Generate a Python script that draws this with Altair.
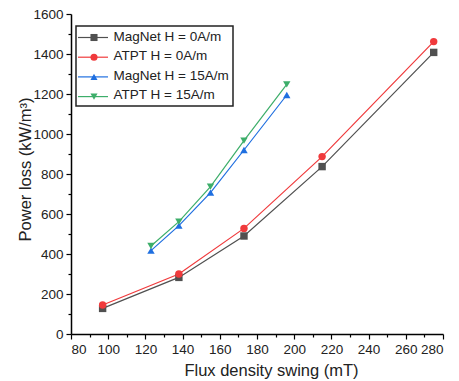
import altair as alt
import pandas as pd

# Series labels, colours and marker shapes
series_names = ["MagNet H = 0A/m", "ATPT H = 0A/m", "MagNet H = 15A/m", "ATPT H = 15A/m"]
series_colors = ["#505050", "#F03A3C", "#1F6FE0", "#3DAE6A"]
series_shapes = ["square", "circle", "triangle-up", "triangle-down"]

# Flux density swing (mT) and power loss (kW/m^3) per series
magnet_0_x = [97, 138, 173, 215, 275]
magnet_0_y = [128, 283, 490, 837, 1408]
atpt_0_x = [97, 138, 173, 215, 275]
atpt_0_y = [145, 300, 528, 887, 1462]
magnet_15_x = [123, 138, 155, 173, 196]
magnet_15_y = [417, 542, 707, 920, 1195]
atpt_15_x = [123, 138, 155, 173, 196]
atpt_15_y = [440, 562, 737, 967, 1248]

xs = [magnet_0_x, atpt_0_x, magnet_15_x, atpt_15_x]
ys = [magnet_0_y, atpt_0_y, magnet_15_y, atpt_15_y]

rows = []
for name, sx, sy in zip(series_names, xs, ys):
    for i, (a, b) in enumerate(zip(sx, sy)):
        rows.append({"series": name, "order": i, "flux": a, "loss": b})
df = pd.DataFrame(rows)
legend_df = pd.DataFrame({"series": series_names})

FONT = "Liberation Sans"
TEXT = "#222222"

# Legend frame and labels; its glyphs are drawn by the legend_glyphs layer
legend = alt.Legend(
    title=None,
    orient="none",
    legendX=5,
    legendY=12,
    padding=4,
    strokeColor=TEXT,
    symbolSize=60,
    symbolOpacity=0,
    labelOffset=20,
    labelFont=FONT,
    labelFontSize=13.5,
    labelColor=TEXT,
    rowPadding=4.5,
)

x_axis = alt.Axis(
    values=list(range(80, 281, 10)),
    labelExpr="datum.value % 20 === 0 ? datum.label : ''",
    tickSize={"condition": {"test": "datum.value % 20 === 0", "value": 5}, "value": 3},
    labelPadding=3,
    grid=False,
    domainColor="black",
    domainWidth=1.5,
    tickColor="black",
    tickWidth=1.2,
    labelFont=FONT,
    labelFontSize=13.5,
    labelColor=TEXT,
    title="Flux density swing (mT)",
    titleFont=FONT,
    titleFontSize=16.5,
    titleFontWeight="normal",
    titleColor=TEXT,
    titleX=200,
    titleY=41,
    titleBaseline="alphabetic",
)
y_axis = alt.Axis(
    values=list(range(0, 1601, 100)),
    labelExpr="datum.value % 200 === 0 ? datum.label : ''",
    tickSize={"condition": {"test": "datum.value % 200 === 0", "value": 5}, "value": 3},
    labelPadding=3,
    format="d",
    grid=False,
    domainColor="black",
    domainWidth=1.5,
    tickColor="black",
    tickWidth=1.2,
    labelFont=FONT,
    labelFontSize=13.5,
    labelColor=TEXT,
    title="Power loss (kW/m³)",
    titleFont=FONT,
    titleFontSize=16.5,
    titleFontWeight="normal",
    titleColor=TEXT,
    titleX=-41,
    titleY=155,
    titleAngle=270,
    titleBaseline="alphabetic",
)

x_enc = alt.X("flux:Q", scale=alt.Scale(domain=[80, 280], nice=False, zero=False), axis=x_axis)
y_enc = alt.Y("loss:Q", scale=alt.Scale(domain=[0, 1600], nice=False), axis=y_axis)
color_scale = alt.Scale(domain=series_names, range=series_colors)
shape_scale = alt.Scale(domain=series_names, range=series_shapes)
color = alt.Color("series:N", scale=color_scale, legend=legend)
shape = alt.Shape("series:N", scale=shape_scale, legend=legend)

base = alt.Chart(df)

lines = base.mark_line(strokeWidth=1.2).encode(
    x=x_enc,
    y=y_enc,
    color=color,
    detail="series:N",
    order="order:Q",
)

points = base.mark_point(filled=True, size=55, opacity=1).encode(
    x=x_enc, y=y_enc, color=color, shape=shape
)

data_layers = alt.layer(lines, points)

# Legend glyphs: a short line with the series marker, one per legend row
row_y = alt.Y(
    "series:N",
    scale=alt.Scale(type="point", domain=series_names, range=[23.5, 82.6], padding=0),
    axis=None,
)
glyph_lines = (
    alt.Chart(legend_df)
    .mark_rule(strokeWidth=1.2)
    .encode(
        x=alt.value(7),
        x2=alt.value(37),
        y=row_y,
        color=alt.Color("series:N", scale=color_scale, legend=None),
    )
)
glyph_marks = (
    alt.Chart(legend_df)
    .mark_point(filled=True, size=50, opacity=1)
    .encode(
        x=alt.value(23),
        y=row_y,
        color=alt.Color("series:N", scale=color_scale, legend=None),
        shape=alt.Shape("series:N", scale=shape_scale, legend=None),
    )
)
legend_glyphs = alt.layer(glyph_lines, glyph_marks)

chart = (
    alt.layer(data_layers, legend_glyphs)
    .resolve_scale(y="independent")
    .properties(
        width=372,
        height=320,
        padding={"left": 71, "top": 14, "right": 16, "bottom": 47},
        autosize=alt.AutoSizeParams(type="none"),
        background="white",
    )
    .configure_view(stroke=None)
    .configure_legend(strokeWidth=1.5)
)

chart.save("out.html", embed_options={"renderer": "svg", "actions": False})
